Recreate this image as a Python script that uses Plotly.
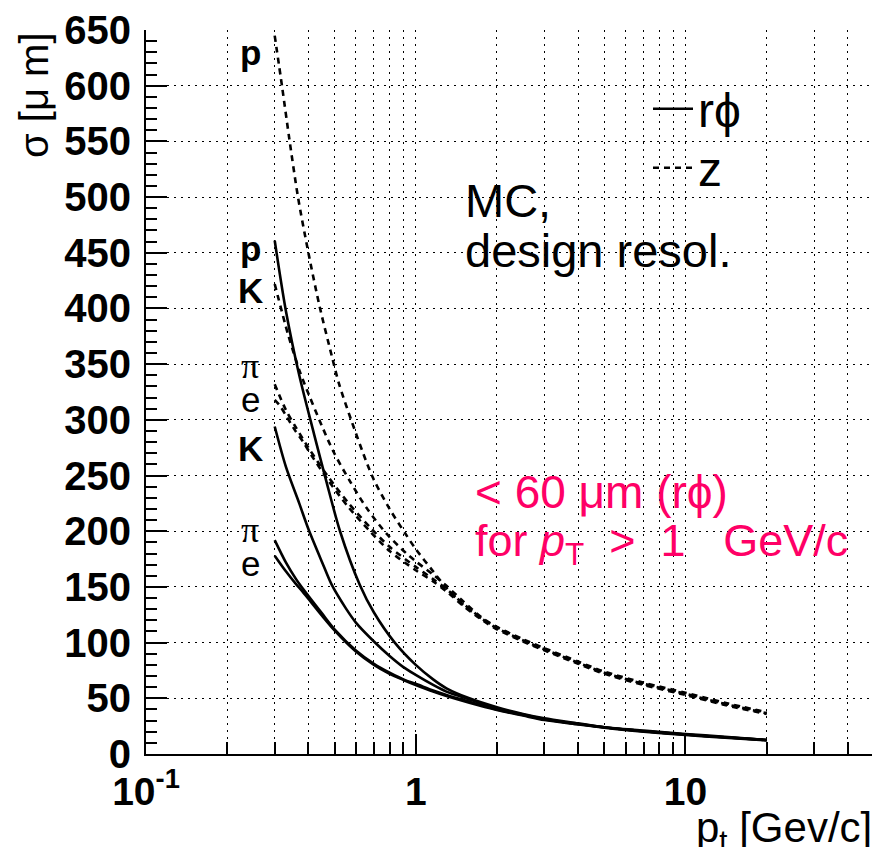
import numpy as np
import plotly.graph_objects as go

# ---------------- data ----------------
# r-phi resolution (solid lines), sigma in micrometres vs pt in GeV/c
pt_rphi_p = [0.3, 0.33, 0.37, 0.42, 0.466, 0.524, 0.62, 0.7, 0.836, 1.0, 1.16, 1.3, 1.58, 2, 2.5, 3, 4, 5, 7, 10, 14, 20]
sig_rphi_p = [461, 398, 340, 287, 245, 200, 152, 127, 100, 80, 67, 59, 50, 42, 36, 32, 27.5, 24, 21, 18, 15.5, 12.6]

pt_rphi_K = [0.3, 0.33, 0.37, 0.4, 0.45, 0.488, 0.55, 0.6, 0.7, 0.8, 0.9, 1.0, 1.16, 1.3, 1.58, 2, 2.5, 3, 4, 5, 7, 10, 14, 20]
sig_rphi_K = [294, 258, 225, 202, 172, 152, 131, 118, 101, 88, 78, 71, 62, 56, 49, 41, 35.5, 31.5, 27, 24, 20.5, 17.5, 15, 12.5]

pt_rphi_pi = [0.3, 0.33, 0.36, 0.38, 0.45, 0.5, 0.6, 0.7, 0.8, 0.9, 1.0, 1.16, 1.3, 1.58, 2, 2.5, 3, 4, 5, 7, 10, 14, 20]
sig_rphi_pi = [192, 172, 157, 149, 126, 112, 93, 81, 73, 67, 63, 57, 53, 47, 40, 35, 31, 27, 24, 20.5, 17.5, 15, 12.5]

pt_rphi_e = [0.3, 0.33, 0.36, 0.38, 0.45, 0.5, 0.6, 0.7, 0.8, 0.9, 1.0, 1.16, 1.3, 1.58, 2, 2.5, 3, 4, 5, 7, 10, 14, 20]
sig_rphi_e = [178, 164, 152.5, 146, 124, 111, 92, 80, 72, 66.5, 62, 56, 52, 46, 39.5, 34.5, 30.5, 26.5, 23.5, 20, 17, 14.7, 12.3]

# z resolution (dashed lines)
pt_z_p = [0.3, 0.32, 0.34, 0.366, 0.4, 0.44, 0.49, 0.52, 0.58, 0.657, 0.7, 0.8, 0.92, 1.0, 1.16, 1.3, 1.5, 1.77, 2, 2.5, 3, 4, 5, 7, 10, 14, 20]
sig_z_p = [645, 598, 552, 500, 450, 402, 356, 332, 298, 262, 246, 220, 197, 184, 164, 149, 134, 121, 114, 103, 95, 83, 74, 64, 55, 46, 37.5]

pt_z_K = [0.3, 0.336, 0.371, 0.404, 0.448, 0.494, 0.57, 0.657, 0.778, 0.924, 1.0, 1.16, 1.3, 1.5, 1.77, 2, 2.5, 3, 4, 5, 7, 10, 14, 20]
sig_z_K = [422, 377, 344, 321, 295, 272, 245, 221, 198, 180, 173, 161, 151, 137, 122, 114, 102, 94, 82, 73, 63, 54, 45, 37]

pt_z_pi = [0.3, 0.33, 0.36, 0.4, 0.47, 0.56, 0.68, 0.8, 1.0, 1.16, 1.3, 1.5, 1.77, 2, 2.5, 3, 4, 5, 7, 10, 14, 20]
sig_z_pi = [332, 309, 293, 275, 250, 226, 203, 186, 168, 157, 148, 135, 121, 113, 102, 94, 82, 73, 63, 54, 45, 36.5]

pt_z_e = [0.3, 0.313, 0.332, 0.356, 0.383, 0.411, 0.473, 0.561, 0.676, 0.802, 1.0, 1.16, 1.3, 1.5, 1.77, 2, 2.5, 3, 4, 5, 7, 10, 14, 20]
sig_z_e = [318, 313, 303, 291, 280, 268, 246, 222, 200, 182, 165, 155, 146, 133, 120, 112, 101, 93, 81, 72, 62, 53, 44, 36]

# particle labels at the left end of the curves
label_text = ["p", "p", "K", "π", "e", "K", "π", "e"]
label_sigma = [630, 454, 416, 348, 318, 274, 201, 171]
label_bold = [True, True, True, False, False, True, False, False]

x_tickvals = [0.1, 1, 10]
x_ticktext = ["10<sup>-1</sup>", "1", "10"]

# ---------------- figure ----------------
FONT = "Liberation Sans, Arial, Helvetica, DejaVu Sans, sans-serif"
SERIF = "Liberation Serif, DejaVu Serif, serif"
DASH = "6px,5px"
PHI = "\u03d5"
fig = go.Figure()

series = [
    (pt_rphi_e, sig_rphi_e, "solid", "r" + PHI, True, "legend"),
    (pt_rphi_pi, sig_rphi_pi, "solid", "r" + PHI, False, "legend"),
    (pt_rphi_K, sig_rphi_K, "solid", "r" + PHI, False, "legend"),
    (pt_rphi_p, sig_rphi_p, "solid", "r" + PHI, False, "legend"),
    (pt_z_e, sig_z_e, DASH, "z", True, "legend2"),
    (pt_z_pi, sig_z_pi, DASH, "z", False, "legend2"),
    (pt_z_K, sig_z_K, DASH, "z", False, "legend2"),
    (pt_z_p, sig_z_p, DASH, "z", False, "legend2"),
]
for xs, ys, dash, name, show, leg in series:
    fig.add_trace(go.Scatter(
        x=xs, y=ys, mode="lines", name=name, showlegend=show, legend=leg,
        line=dict(color="black", width=2.6, dash=dash, shape="spline", smoothing=0.8),
        hoverinfo="skip",
    ))

annotations = []
for t, s, b in zip(label_text, label_sigma, label_bold):
    annotations.append(dict(
        x=np.log10(0.243), y=s, xref="x", yref="y", text=t, showarrow=False,
        xanchor="center", yanchor="middle",
        font=dict(family=SERIF if t == "π" else FONT, size=36 if t == "π" else 35,
                  color="black", weight="bold" if b else "normal"),
    ))

# plot area in page pixels: x 146..874, y 30..754
def px_x(px):
    return (px - 146) / 728.0

def px_y(py):
    return (754 - py) / 724.0

# y-axis title (top-aligned like ROOT)
annotations.append(dict(
    x=px_x(34), y=px_y(95), xref="paper", yref="paper", text="σ [μ m]", textangle=-90,
    showarrow=False, xanchor="center", yanchor="middle",
    font=dict(family=FONT, size=40, color="black"),
))
# x-axis title (right aligned, slightly cut at the bottom as in the original)
annotations.append(dict(
    x=1.0, y=px_y(830), xref="paper", yref="paper", text="p<sub>t</sub>&nbsp;[Gev/c]",
    showarrow=False, xanchor="right", yanchor="middle",
    font=dict(family=FONT, size=42, color="black"),
))
# MC text
annotations.append(dict(
    x=px_x(463), y=px_y(200), xref="paper", yref="paper",
    text="MC,", showarrow=False, xanchor="left", yanchor="middle", align="left",
    font=dict(family=FONT, size=47, color="black"),
))
annotations.append(dict(
    x=px_x(463), y=px_y(251), xref="paper", yref="paper",
    text="design resol.", showarrow=False, xanchor="left", yanchor="middle", align="left",
    font=dict(family=FONT, size=47, color="black"),
))
# pink statement
PINK = "#ff0066"
annotations.append(dict(
    x=px_x(473), y=px_y(492), xref="paper", yref="paper",
    text="< 60 μm (r" + PHI + ")", showarrow=False, xanchor="left", yanchor="middle", align="left",
    font=dict(family=FONT, size=46, color=PINK),
))
annotations.append(dict(
    x=px_x(473), y=px_y(543), xref="paper", yref="paper",
    text="for <i>p</i><sub>T</sub>&nbsp;&nbsp;>&nbsp;&nbsp;1&nbsp;&nbsp;&nbsp;GeV/c",
    showarrow=False, xanchor="left", yanchor="middle", align="left",
    font=dict(family=FONT, size=45, color=PINK),
))

grid_dash = "2px,5px"
leg_common = dict(
    xanchor="left", yanchor="middle",
    bgcolor="rgba(0,0,0,0)", borderwidth=0,
    font=dict(family=FONT, size=48, color="black"),
    itemwidth=40,
)
# The page adds an 8px body margin: the figure is sized to fit the window
# and margins are chosen so that the plot area lands on x 146..874, y 30..754.
fig.update_layout(
    template="none",
    width=872, height=839,
    margin=dict(l=138, r=6, t=22, b=93, autoexpand=False),
    paper_bgcolor="white", plot_bgcolor="white",
    font=dict(family=FONT, color="black"),
    annotations=annotations,
    showlegend=True,
    legend=dict(x=px_x(648), y=px_y(109), **leg_common),
    legend2=dict(x=px_x(648), y=px_y(168), **leg_common),
    xaxis=dict(
        type="log", range=[-1, np.log10(50)], automargin=False,
        tickvals=x_tickvals, ticktext=x_ticktext,
        ticks="inside", ticklen=20, tickwidth=1.5, tickcolor="black",
        showline=True, linecolor="black", linewidth=2,
        showgrid=True, gridcolor="black", gridwidth=1, griddash=grid_dash,
        zeroline=False,
        tickfont=dict(family=FONT, size=39, color="black", weight="bold"),
        ticklabelstandoff=2, ticklabeloverflow="allow",
        minor=dict(dtick="D1", ticks="inside", ticklen=12, tickwidth=1.5, tickcolor="black",
                   showgrid=True, gridcolor="black", gridwidth=1, griddash=grid_dash),
    ),
    yaxis=dict(
        range=[0, 650], tick0=0, dtick=50, automargin=False,
        ticks="inside", ticklen=21, tickwidth=1.5, tickcolor="black",
        showline=True, linecolor="black", linewidth=2,
        showgrid=True, gridcolor="black", gridwidth=1, griddash=grid_dash,
        zeroline=False,
        tickfont=dict(family=FONT, size=40, color="black", weight="bold"),
        ticklabelstandoff=5, ticklabeloverflow="allow",
        minor=dict(dtick=10, ticks="inside", ticklen=11, tickwidth=1.5, tickcolor="black", showgrid=False),
    ),
)

fig.write_html("out.html")
